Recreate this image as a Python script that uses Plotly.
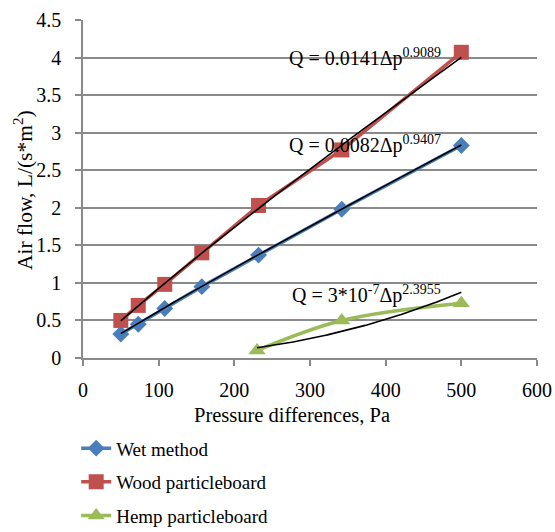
import numpy as np
import plotly.graph_objects as go

# Data
pressure = [50, 73, 108, 157, 232, 342, 500]
wet_method = [0.32, 0.45, 0.66, 0.95, 1.37, 1.98, 2.83]
wood_pb = [0.50, 0.70, 0.98, 1.40, 2.03, 2.77, 4.07]
hemp_pressure = [230, 342, 500]
hemp_pb = [0.10, 0.50, 0.73]

# Power-law trendline coefficients (Q = a * dp^b), as printed on the chart
wet_fit = (0.0082, 0.9407)
wood_fit = (0.0141, 0.9089)
hemp_fit = (3e-7, 2.3955)

x_ticks = [0, 100, 200, 300, 400, 500, 600]
y_ticks = [0, 0.5, 1, 1.5, 2, 2.5, 3, 3.5, 4, 4.5]

BLUE = "#4a7ebb"
RED = "#c0504d"
GREEN = "#9bbb59"
GRID = "#8a8a8a"
FONT = "Liberation Serif, Times New Roman, serif"

fig = go.Figure()

fig.add_trace(go.Scatter(x=pressure, y=wet_method, name="Wet method", mode="lines+markers",
                         line=dict(color=BLUE, width=3.5),
                         marker=dict(symbol="diamond", size=13, color=BLUE),
                         legendgroup="a"))
fig.add_trace(go.Scatter(x=pressure, y=wood_pb, name="Wood particleboard", mode="lines+markers",
                         line=dict(color=RED, width=3.5),
                         marker=dict(symbol="square", size=15, color=RED),
                         legendgroup="b"))
fig.add_trace(go.Scatter(x=hemp_pressure, y=hemp_pb, name="Hemp particleboard", mode="lines+markers",
                         line=dict(color=GREEN, width=3.5, shape="spline"),
                         marker=dict(symbol="triangle-up", size=15, color=GREEN),
                         legendgroup="c"))

def trend(xs, coef):
    a, b = coef
    xx = np.linspace(min(xs), max(xs), 120)
    return xx, a * xx ** b

for xs, coef in [(pressure, wet_fit), (pressure, wood_fit), (hemp_pressure, hemp_fit)]:
    tx, ty = trend(xs, coef)
    fig.add_trace(go.Scatter(x=tx, y=ty, mode="lines", line=dict(color="black", width=1.6),
                             showlegend=False, hoverinfo="skip"))

eq_font = dict(family=FONT, size=20, color="black")
fig.add_annotation(x=269, y=4.0, xref="x", yref="y", xanchor="left", yanchor="middle",
                   text="Q = 0.0141Δp<sup>0.9089</sup>", showarrow=False, font=eq_font)
fig.add_annotation(x=269, y=2.84, xref="x", yref="y", xanchor="left", yanchor="middle",
                   text="Q = 0.0082Δp<sup>0.9407</sup>", showarrow=False, font=eq_font)
fig.add_annotation(x=274, y=0.85, xref="x", yref="y", xanchor="left", yanchor="middle",
                   text="Q = 3*10<sup>-7</sup>Δp<sup>2.3955</sup>", showarrow=False, font=eq_font)

# Axis titles
fig.add_annotation(text="Pressure differences, Pa", showarrow=False,
                   font=dict(family=FONT, size=20.5, color="black"),
                   xref="paper", yref="paper", x=(292 - 83) / 454, y=(358 - 415) / 338,
                   xanchor="center", yanchor="middle")
fig.add_annotation(text="Air flow, L/(s*m<sup>2</sup>)", textangle=-90, showarrow=False,
                   font=dict(family=FONT, size=21.5, color="black"),
                   xref="paper", yref="paper", x=(23 - 83) / 454, y=(358 - 190) / 338,
                   xanchor="center", yanchor="middle")

fig.update_layout(
    width=555, height=532,
    margin=dict(l=83, r=18, t=20, b=174, autoexpand=False),
    paper_bgcolor="white", plot_bgcolor="white",
    font=dict(family=FONT, size=19, color="black"),
    showlegend=True,
    legend=dict(x=-0.015, y=-0.211, xanchor="left", yanchor="top", orientation="v",
                font=dict(family=FONT, size=19, color="black"),
                tracegroupgap=6, bgcolor="rgba(0,0,0,0)"),
    xaxis=dict(range=[0, 600], tickvals=x_ticks, ticktext=[str(v) for v in x_ticks],
               showgrid=False, zeroline=False, showline=True, linecolor=GRID, linewidth=1.5,
               ticks="outside", ticklen=6, tickcolor=GRID, tickwidth=1.5, ticklabelstandoff=7,
               tickfont=dict(family=FONT, size=20, color="black")),
    yaxis=dict(range=[0, 4.5], tickvals=y_ticks, ticktext=[f"{v:g}" for v in y_ticks],
               showgrid=True, gridcolor=GRID, gridwidth=1.5, zeroline=False,
               showline=True, linecolor=GRID, linewidth=1.5,
               ticks="outside", ticklen=6, tickcolor=GRID, tickwidth=1.5, ticklabelstandoff=10,
               tickfont=dict(family=FONT, size=20, color="black")),
)

fig.write_html("out.html")
